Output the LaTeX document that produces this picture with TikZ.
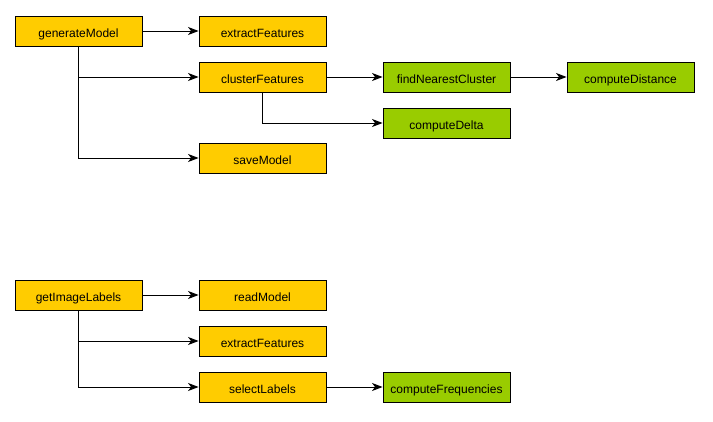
\documentclass[tikz,border=0pt]{standalone}
\usepackage{fontspec}
\setmainfont{Liberation Sans}
\usetikzlibrary{arrows.meta}

\definecolor{funcyellow}{HTML}{FFCC00}
\definecolor{funcgreen}{HTML}{99CC00}

\tikzset{
  func/.style={draw=black, line width=0.9pt, minimum width=127pt, minimum height=30pt,
    inner sep=0pt, text height=12.5pt, text depth=0pt, font=\fontsize{12}{14}\selectfont},
  mainfunc/.style={func, fill=funcyellow},
  subfunc/.style={func, fill=funcgreen},
  call/.style={line width=0.9pt, -{Stealth[length=10.5pt, width=8pt, inset=3pt]}}
}

\begin{document}
\begin{tikzpicture}[x=1pt, y=-1pt]
\useasboundingbox (0,0) rectangle (713,422);

% model generation
\node[mainfunc] (generateModel) at (78.5,31) {generateModel};
\node[mainfunc] (extractFeaturesA) at (262.5,31) {extractFeatures};
\node[mainfunc] (clusterFeatures) at (262.5,77) {clusterFeatures};
\node[mainfunc] (saveModel) at (262.5,158) {saveModel};
\node[subfunc] (findNearestCluster) at (446.5,77) {findNearestCluster};
\node[subfunc] (computeDistance) at (630.5,77) {computeDistance};
\node[subfunc] (computeDelta) at (446.5,123) {computeDelta};

\draw[call] (generateModel) -- (extractFeaturesA);
\draw[call] (generateModel.south) |- (clusterFeatures.west);
\draw[call] (generateModel.south) |- (saveModel.west);
\draw[call] (clusterFeatures) -- (findNearestCluster);
\draw[call] (findNearestCluster) -- (computeDistance);
\draw[call] (clusterFeatures.south) |- (computeDelta.west);

% labelling
\node[mainfunc] (getImageLabels) at (78.5,295) {getImageLabels};
\node[mainfunc] (readModel) at (262.5,295) {readModel};
\node[mainfunc] (extractFeaturesB) at (262.5,341) {extractFeatures};
\node[mainfunc] (selectLabels) at (262.5,387) {selectLabels};
\node[subfunc] (computeFrequencies) at (446.5,387) {computeFrequencies};

\draw[call] (getImageLabels) -- (readModel);
\draw[call] (getImageLabels.south) |- (extractFeaturesB.west);
\draw[call] (getImageLabels.south) |- (selectLabels.west);
\draw[call] (selectLabels) -- (computeFrequencies);

\end{tikzpicture}
\end{document}
